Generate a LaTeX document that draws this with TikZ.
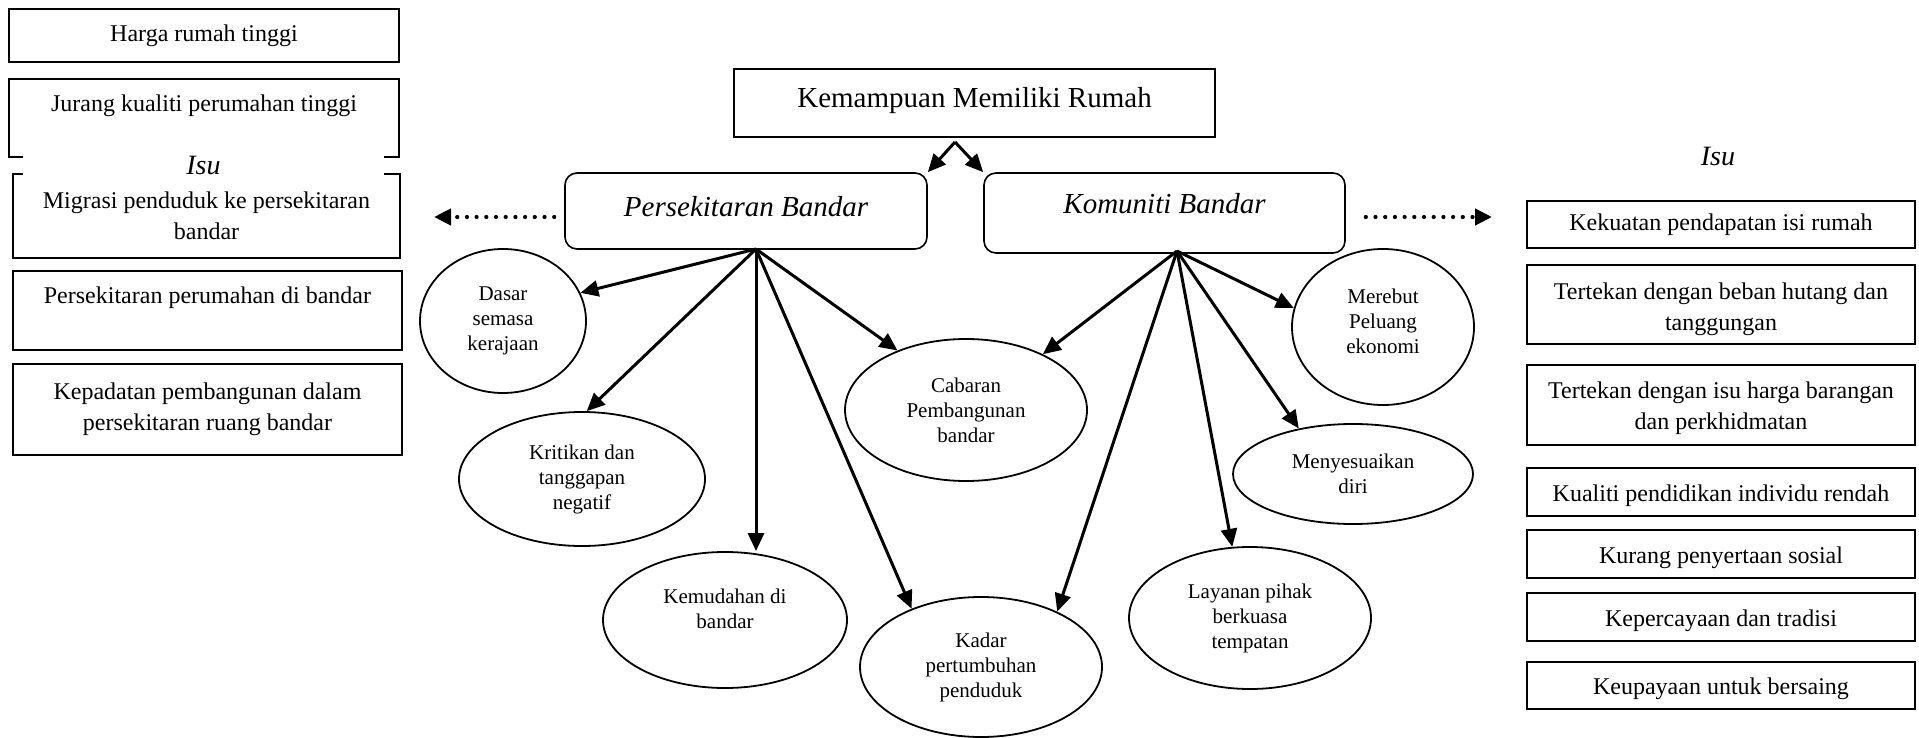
\documentclass[tikz,border=0pt]{standalone}
\usepackage{fontspec}
\setmainfont{Liberation Serif}
\usetikzlibrary{shapes.geometric,arrows.meta,calc}
\begin{document}
\begin{tikzpicture}[x=1pt,y=-1pt,
  box/.style={draw, line width=1.8pt, rectangle, inner sep=0pt, align=center, font=\fontsize{24}{31}\selectfont},
  lowtext/.style={text height=23pt, text depth=5pt},
  mainbox/.style={draw, line width=1.5pt, rectangle, inner sep=0pt, align=center, font=\fontsize{29}{35}\selectfont},
  rbox/.style={draw, line width=1.6pt, rounded corners=12pt, inner sep=0pt, align=center, font=\fontsize{29}{35}\selectfont\itshape},
  oval/.style={draw, ellipse, line width=1.8pt, inner sep=0pt, align=center, font=\fontsize{21}{25}\selectfont},
  arr/.style={line width=3pt, -{Triangle[length=18pt,width=16pt]}},
  dotarr/.style={line width=4.2pt, line cap=round, dash pattern=on 0pt off 9.7pt, -{Triangle[length=17pt,width=16pt]}},
  isu/.style={font=\fontsize{28}{32}\selectfont\itshape, inner sep=0pt}
]
\useasboundingbox (0,0) rectangle (1919,738);

% left issue boxes
\node[box, minimum width=390pt, minimum height=53pt] (l1) at (204,35.5) {Harga rumah tinggi};
\node[box, minimum width=390pt, minimum height=78pt] (l2) at (204,118) {Jurang kualiti perumahan tinggi\\[-10pt]\strut};
\node[box, minimum width=387pt, minimum height=84pt] (l3) at (206.5,216) {Migrasi penduduk ke persekitaran\\bandar};
\node[box, minimum width=389pt, minimum height=79pt] (l4) at (207.5,310.5) {Persekitaran perumahan di bandar\\[-10pt]\strut};
\node[box, minimum width=389pt, minimum height=91pt] (l5) at (207.5,409.5) {Kepadatan pembangunan dalam\\persekitaran ruang bandar};
\node[isu, fill=white, minimum width=361pt, minimum height=26pt] (isuL) at (203.5,165) {Isu};

% right issue boxes
\node[isu] (isuR) at (1718,156) {Isu};
\node[box, minimum width=388pt, minimum height=47pt] (r1) at (1721,224.5) {Kekuatan pendapatan isi rumah};
\node[box, minimum width=388pt, minimum height=79pt] (r2) at (1721,304.5) {\rule{0pt}{26pt}Tertekan dengan beban hutang dan\\tanggungan};
\node[box, minimum width=388pt, minimum height=80pt] (r3) at (1721,405) {\rule{0pt}{23pt}Tertekan dengan isu harga barangan\\dan perkhidmatan};
\node[box, lowtext, minimum width=388pt, minimum height=48pt] (r4) at (1721,492) {Kualiti pendidikan individu rendah};
\node[box, lowtext, minimum width=388pt, minimum height=48pt] (r5) at (1721,554) {Kurang penyertaan sosial};
\node[box, lowtext, minimum width=388pt, minimum height=48pt] (r6) at (1721,617) {Kepercayaan dan tradisi};
\node[box, lowtext, minimum width=388pt, minimum height=47pt] (r7) at (1721,685.5) {Keupayaan untuk bersaing};

% centre
\node[mainbox, text height=20pt, text depth=11pt, minimum width=481pt, minimum height=68pt] (km) at (974.5,103) {Kemampuan Memiliki Rumah};
\node[rbox, text height=20pt, text depth=10pt, minimum width=362pt, minimum height=76pt] (pb) at (746,211) {Persekitaran Bandar};
\node[rbox, text height=20pt, text depth=19pt, minimum width=361pt, minimum height=80pt] (kb) at (1164.5,213) {Komuniti Bandar};

% ellipses
\node[oval, minimum width=166pt, minimum height=144pt] (dasar) at (503,321) {Dasar\\semasa\\kerajaan};
\node[oval, minimum width=246pt, minimum height=134pt] (kritikan) at (582,479) {Kritikan dan\\tanggapan\\negatif};
\node[oval, minimum width=244pt, minimum height=136pt] (kemudahan) at (725,620) {Kemudahan di\\bandar\\[-10pt]\strut};
\node[oval, minimum width=242pt, minimum height=142pt] (cabaran) at (966,410) {Cabaran\\Pembangunan\\bandar};
\node[oval, minimum width=242pt, minimum height=140pt] (kadar) at (981,667) {Kadar\\pertumbuhan\\penduduk};
\node[oval, minimum width=182pt, minimum height=156pt] (merebut) at (1383,327) {Merebut\\Peluang\\ekonomi\\[-20pt]\strut};
\node[oval, minimum width=240pt, minimum height=100pt] (menyesuaikan) at (1353,474) {Menyesuaikan\\diri};
\node[oval, minimum width=242pt, minimum height=142pt] (layanan) at (1250,618) {Layanan pihak\\berkuasa\\tempatan};

% coordinates
\coordinate (apex) at (955,142);
\coordinate (ps) at (756,249);
\coordinate (ks) at (1177,251);
\coordinate (dl) at (434,217);
\coordinate (dr) at (1492,217);

% connectors
\draw[arr] (apex) -- (pb.north east);
\draw[arr] (apex) -- (kb.north west);
\draw[dotarr] ([xshift=-10pt,yshift=-6pt]pb.west) -- (dl);
\draw[dotarr] ([xshift=20pt,yshift=-4pt]kb.east) -- (dr);

\draw[arr] (ps) -- (dasar.20);
\draw[arr] (ps) -- (kritikan.86);
\draw[arr] (ps) -- (ps |- kemudahan.north);
\draw[arr] (ps) -- (cabaran.139);
\draw[arr] (ps) -- (kadar.140);

\draw[arr] (ks) -- (cabaran.36);
\draw[arr] (ks) -- (kadar.36);
\draw[arr] (ks) -- (merebut.168);
\draw[arr] (ks) -- (menyesuaikan.140);
\draw[arr] (ks) -- (layanan.104);
\end{tikzpicture}
\end{document}
